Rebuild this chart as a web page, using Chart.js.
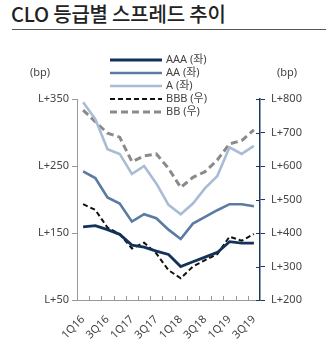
<!DOCTYPE html>
<html>
<head>
<meta charset="utf-8">
<script src="https://cdn.jsdelivr.net/npm/chart.js@4.4.0/dist/chart.umd.min.js"></script>
<style>
  body { margin: 0; background: #fff; }
  #wrap { position: relative; width: 328px; height: 348px; }
  #title { position: absolute; left: 11px; top: -1px; font: 500 20px "Noto Sans CJK KR", sans-serif; color: #222; letter-spacing: -0.2px; }
  #rule { position: absolute; left: 12px; top: 29px; width: 314px; height: 1px; background: #555; }
  canvas { position: absolute; left: 0; top: 0; }
</style>
</head>
<body>
<div id="wrap">
  <div id="title">CLO 등급별 스프레드 추이</div>
  <div id="rule"></div>
  <canvas id="chart" width="328" height="348"></canvas>
</div>
<script>
const quarters = ["1Q16","2Q16","3Q16","4Q16","1Q17","2Q17","3Q17","4Q17","1Q18","2Q18","3Q18","4Q18","1Q19","2Q19","3Q19"];
const aaa = [159, 161, 155, 148, 132, 129, 123, 118, 100, 107, 114, 121, 137, 135, 135];
const aa  = [242, 232, 203, 194, 167, 178, 172, 155, 141, 164, 174, 184, 193, 193, 190];
const a   = [345, 320, 275, 268, 238, 250, 224, 192, 178, 194, 217, 235, 278, 268, 280];
const bbb = [486, 469, 416, 397, 354, 371, 339, 289, 265, 300, 319, 337, 389, 377, 397];
const bb  = [767, 732, 698, 686, 613, 630, 636, 593, 536, 566, 583, 618, 666, 676, 708];
const leftTicks = [50, 150, 250, 350];
const rightTicks = [200, 300, 400, 500, 600, 700, 800];

const font = "'Noto Sans', 'Noto Sans CJK KR', sans-serif";
const txt = "#444";

// legend drawn on top of plot like the original
const legendPlugin = {
  id: "legendOverlay",
  afterDraw(chart) {
    const ctx = chart.ctx;
    ctx.save();
    ctx.font = "11px " + font;
    ctx.textBaseline = "middle";
    chart.data.datasets.forEach((ds, i) => {
      const y = 60 + i * 13;
      ctx.strokeStyle = ds.borderColor;
      ctx.lineWidth = ds.borderWidth;
      ctx.setLineDash(ds.borderDash || []);
      ctx.beginPath();
      ctx.moveTo(110, y);
      ctx.lineTo(162, y);
      ctx.stroke();
      ctx.fillStyle = txt;
      ctx.fillText(ds.label, 166, y);
    });
    ctx.restore();
  }
};

// inner ticks: x axis ticks upward, right axis ticks inward
const innerTicks = {
  id: "innerTicks",
  afterDraw(chart) {
    const ctx = chart.ctx;
    const x = chart.scales.x, yr = chart.scales.yR;
    const area = chart.chartArea;
    ctx.save();
    ctx.lineWidth = 1;
    ctx.strokeStyle = "#999";
    const half = (x.getPixelForValue(1) - x.getPixelForValue(0)) / 2;
    for (let i = 1; i < quarters.length; i++) {
      const px = Math.round(x.getPixelForValue(i) - half) + 0.5;
      ctx.beginPath();
      ctx.moveTo(px, area.bottom);
      ctx.lineTo(px, area.bottom - 4);
      ctx.stroke();
    }
    ctx.strokeStyle = "#1c3a60";
    rightTicks.forEach(v => {
      const py = Math.round(yr.getPixelForValue(v)) + 0.5;
      ctx.beginPath();
      ctx.moveTo(area.right - 4, py);
      ctx.lineTo(area.right, py);
      ctx.stroke();
    });
    ctx.fillStyle = txt;
    ctx.font = "11px " + font;
    ctx.textAlign = "center";
    ctx.textBaseline = "middle";
    ctx.fillText("(bp)", 40, 73);
    ctx.fillText("(bp)", 287, 73);
    ctx.restore();
  }
};

new Chart(document.getElementById("chart"), {
  type: "line",
  data: {
    labels: quarters,
    datasets: [
      { label: "AAA (좌)", data: aaa, yAxisID: "yL", borderColor: "#13325a", borderWidth: 2.8 },
      { label: "AA (좌)", data: aa, yAxisID: "yL", borderColor: "#5b7ba3", borderWidth: 2.6 },
      { label: "A (좌)", data: a, yAxisID: "yL", borderColor: "#a9bcd5", borderWidth: 2.6 },
      { label: "BBB (우)", data: bbb, yAxisID: "yR", borderColor: "#111111", borderWidth: 2, borderDash: [5, 3] },
      { label: "BB (우)", data: bb, yAxisID: "yR", borderColor: "#8a8a8a", borderWidth: 3, borderDash: [7, 4] }
    ]
  },
  options: {
    responsive: false,
    animation: false,
    layout: { padding: { top: 99, left: 0, right: 0, bottom: 0 } },
    elements: { point: { radius: 0 }, line: { tension: 0 } },
    plugins: { legend: { display: false }, tooltip: { enabled: false } },
    scales: {
      x: {
        type: "category",
        offset: true,
        grid: { display: false, offset: true },
        border: { color: "#999" },
        afterFit: s => { s.height = 48; },
        ticks: {
          autoSkip: false,
          maxRotation: 45,
          minRotation: 45,
          padding: 5,
          color: txt,
          font: { family: font, size: 11 },
          callback: (v, i) => (i % 2 === 0 ? quarters[i] : "")
        }
      },
      yL: {
        position: "left",
        min: 50, max: 350,
        afterBuildTicks: s => { s.ticks = leftTicks.map(v => ({ value: v })); },
        afterFit: s => { s.width = 77; },
        grid: { drawOnChartArea: false, tickLength: 5, color: "#999" },
        border: { color: "#999" },
        ticks: { color: txt, padding: 3, font: { family: font, size: 11 }, callback: v => "L+" + v }
      },
      yR: {
        position: "right",
        min: 200, max: 800,
        afterBuildTicks: s => { s.ticks = rightTicks.map(v => ({ value: v })); },
        afterFit: s => { s.width = 68; },
        grid: { drawOnChartArea: false, tickLength: 5, color: "#1c3a60" },
        border: { color: "#1c3a60", width: 1.5 },
        ticks: { color: txt, padding: 6, font: { family: font, size: 11 }, callback: v => "L+" + v }
      }
    }
  },
  plugins: [legendPlugin, innerTicks]
});
</script>
</body>
</html>
